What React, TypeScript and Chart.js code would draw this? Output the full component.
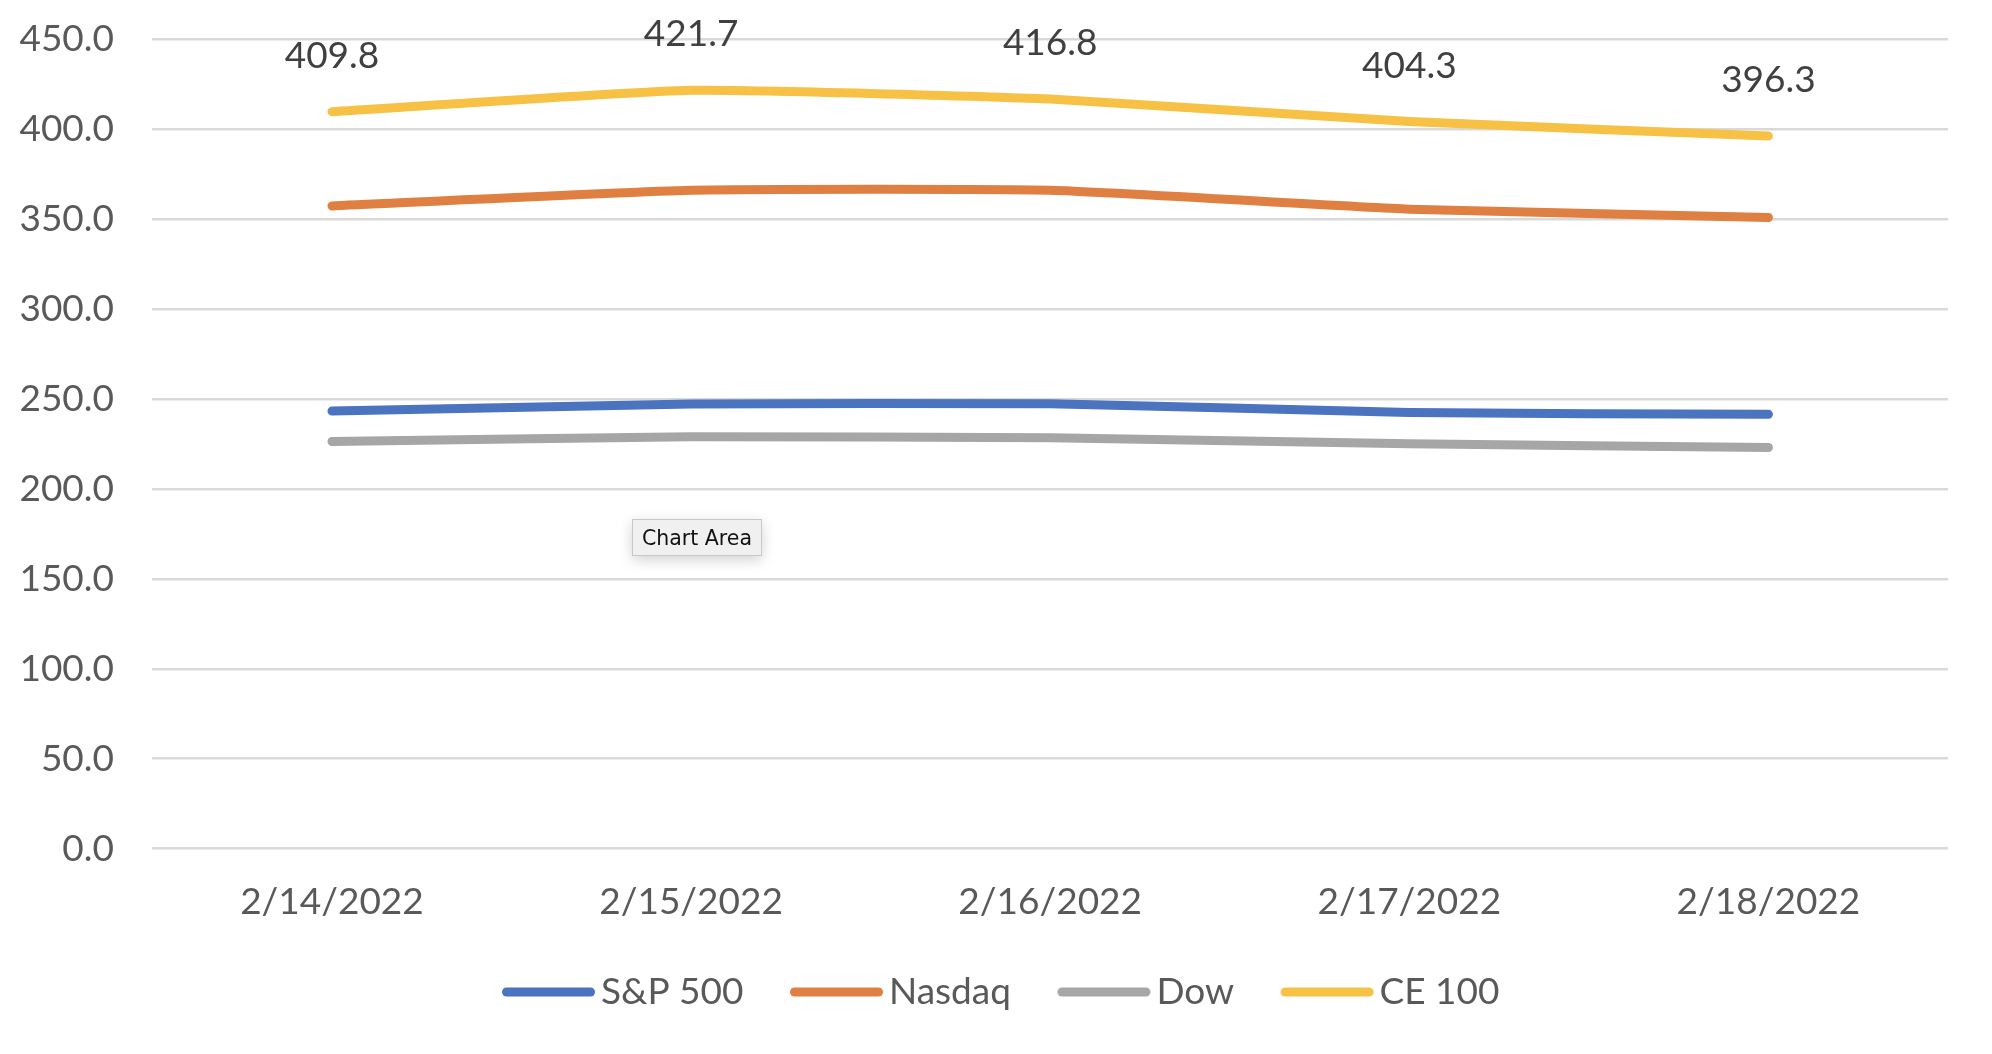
import React, { useEffect, useRef } from "react";
import { Chart, registerables } from "chart.js";

Chart.register(...registerables);

const categories = ["2/14/2022", "2/15/2022", "2/16/2022", "2/17/2022", "2/18/2022"];
const sp500 = [243.3, 247.2, 247.4, 242.5, 241.5];
const nasdaq = [357.4, 366.1, 366.1, 355.6, 351.0];
const dow = [226.4, 229.0, 228.5, 225.1, 223.1];
const ce100 = [409.8, 421.7, 416.8, 404.3, 396.3];
const seriesNames = ["S&P 500", "Nasdaq", "Dow", "CE 100"];
const seriesColors = ["#4A73C0", "#E07F42", "#A6A6A6", "#F6C144"];
const yMin = 0;
const yMax = 450;
const yStep = 50;

const FONT = "Lato";
const FS = 37;
const LEGEND_BOX = 82;

function legendSwatch(color: string) {
  const c = document.createElement("canvas");
  const w = LEGEND_BOX + FS;
  c.width = w;
  c.height = 12;
  const g = c.getContext("2d")!;
  g.strokeStyle = color;
  g.lineWidth = 9;
  g.lineCap = "round";
  g.beginPath();
  g.moveTo(w - 99 + 4.5, 6);
  g.lineTo(w - 6 - 4.5, 6);
  g.stroke();
  return c;
}

const dataLabelPlugin = {
  id: "ceLabels",
  afterDatasetsDraw(chart: any) {
    const ctx = chart.ctx;
    const idx = 3;
    const meta = chart.getDatasetMeta(idx);
    const data = chart.data.datasets[idx].data as number[];
    ctx.save();
    ctx.font = `${FS}px ${FONT}`;
    ctx.fillStyle = "#404040";
    ctx.textAlign = "center";
    ctx.textBaseline = "middle";
    meta.data.forEach((pt: any, i: number) => {
      ctx.fillText(data[i].toFixed(1), pt.x, pt.y - 56);
    });
    ctx.restore();
  },
};

const legendShiftPlugin = {
  id: "legendShift",
  afterLayout(chart: any) {
    if (chart.legend) {
      chart.legend.left += 22;
      chart.legend.right += 22;
    }
  },
};

export default function App() {
  const ref = useRef<HTMLCanvasElement | null>(null);
  useEffect(() => {
    if (!ref.current) return;
    const allSeries = [sp500, nasdaq, dow, ce100];
    const chart = new Chart(ref.current, {
      type: "line",
      data: {
        labels: categories,
        datasets: allSeries.map((d, i) => ({
          label: seriesNames[i],
          data: d,
          borderColor: seriesColors[i],
          backgroundColor: seriesColors[i],
          borderWidth: 9,
          borderCapStyle: "round",
          borderJoinStyle: "round",
          pointRadius: 0,
          pointHoverRadius: 0,
          pointStyle: legendSwatch(seriesColors[i]),
          tension: 0.15,
          fill: false,
        })),
      },
      options: {
        animation: false,
        responsive: true,
        maintainAspectRatio: false,
        devicePixelRatio: 1,
        layout: { autoPadding: false, padding: { top: 31.4, right: 36, bottom: 25.5, left: 0 } },
        plugins: {
          tooltip: { enabled: false },
          legend: {
            position: "bottom",
            labels: {
              usePointStyle: true,
              pointStyleWidth: LEGEND_BOX,
              padding: 45,
              color: "#595959",
              font: { family: FONT, size: FS },
            },
          },
        },
        scales: {
          x: {
            offset: true,
            grid: { display: false, drawTicks: false },
            border: { display: false },
            ticks: {
              color: "#595959",
              font: { family: FONT, size: FS },
              padding: 31.2,
              maxRotation: 0,
              autoSkip: false,
            },
            afterFit: (scale: any) => {
              scale.height = 79.9;
            },
          },
          y: {
            min: yMin,
            max: yMax,
            grid: { color: "#D9D9D9", lineWidth: 2.5, drawTicks: false },
            border: { display: false },
            ticks: {
              stepSize: yStep,
              color: "#595959",
              font: { family: FONT, size: FS },
              padding: 38.4,
              callback: (v: any) => Number(v).toFixed(1),
            },
            afterFit: (scale: any) => {
              scale.width = 144.4;
              scale.paddingTop = 0;
              scale.paddingBottom = 0;
            },
          },
        },
      },
      plugins: [dataLabelPlugin, legendShiftPlugin],
    } as any);
    return () => chart.destroy();
  }, []);

  return (
    <div style={{ position: "relative", width: 1976, height: 1038 }}>
      <canvas ref={ref} />
      <div
        style={{
          position: "absolute",
          left: 624,
          top: 511,
          width: 128,
          height: 35,
          background: "#F0F0F0",
          border: "1px solid #C8C8C8",
          boxShadow: "0 4px 14px rgba(0,0,0,0.18)",
          fontFamily: "DejaVu Sans, sans-serif",
          fontSize: 20.5,
          color: "#111",
          display: "flex",
          alignItems: "center",
          justifyContent: "center",
        }}
      >
        Chart Area
      </div>
    </div>
  );
}
